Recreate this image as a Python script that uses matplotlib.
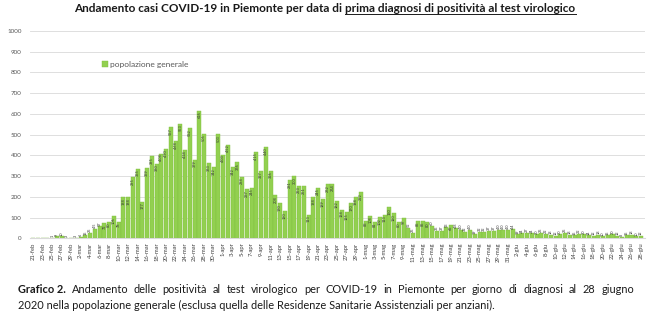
import pandas as pd
import matplotlib
matplotlib.use('Agg')
import matplotlib.pyplot as plt
from matplotlib.lines import Line2D

plt.rcParams['font.family'] = ['Lato', 'DejaVu Sans']

# dates 21 feb -> 28 giu 2020
giorni = pd.date_range('2020-02-21', '2020-06-28')
mesi = {2: 'feb', 3: 'mar', 4: 'apr', 5: 'mag', 6: 'giu'}
etichette = [f"{d.day}-{mesi[d.month]}" for d in giorni]

# casi per giorno di prima diagnosi
casi_feb_mar = [0, 0, 0, 0, 1, 9, 10, 3, 0, 3, 6, 15, 25, 45, 57, 72, 80, 106, 78,
                198, 198, 295, 335, 177, 339, 395, 360, 408, 430, 537, 468, 553,
                424, 532, 379, 616, 505]
casi_apr_mag = [363, 342, 503, 403, 452, 342, 366, 298, 237, 245, 415, 327, 440,
                326, 208, 170, 130, 281, 300, 253, 251, 113, 198, 245, 189, 262,
                264, 182, 138, 125, 170, 198, 222, 83, 108, 81, 102, 113, 150, 120,
                80, 97, 52, 25, 85]
casi_mag = [85, 80, 60, 35, 37, 53, 65, 48, 40, 32, 40, 19, 32, 32, 37, 37, 40,
            40, 40, 44, 19, 24]
casi_giu = [27, 24, 20, 25, 22, 18, 12, 20, 25, 18, 15, 22, 20, 14, 12, 18, 10,
            15, 20, 12, 8, 15, 18, 10, 12]
casi = casi_feb_mar + casi_apr_mag + casi_mag + casi_giu

fig = plt.figure(figsize=(6.5, 3.28), dpi=100)
ax = fig.add_axes([0.046, 0.2735, 0.946, 0.632])

x = range(len(casi))
ax.bar(x, casi, width=0.85, color='#92D050', edgecolor='#7fbf3f', linewidth=0.3,
       label='popolazione generale', zorder=2)

# value labels on the bars
for i, v in enumerate(casi):
    if v == 0:
        continue
    if v > 60:
        ax.text(i, v - 4, str(v), rotation=90, ha='center', va='top',
                fontsize=2.8, color='#3a3a3a', zorder=3)
    else:
        ax.text(i, v + 3, str(v), rotation=90, ha='center', va='bottom',
                fontsize=2.8, color='#3a3a3a', zorder=3)

ax.set_xlim(-0.7, 128.8)
ax.set_ylim(0, 1000)
ax.set_yticks(range(0, 1001, 100))
ax.set_xticks(list(x)[::2])
ax.set_xticklabels(etichette[::2], rotation=90, fontsize=4.2, color='#404040')
ax.tick_params(axis='y', labelsize=4.5, labelcolor='#595959', length=0, pad=6)
ax.tick_params(axis='x', length=0, pad=3)
ax.grid(axis='y', color='#d9d9d9', linewidth=0.6, zorder=0)
for s in ['top', 'right', 'left']:
    ax.spines[s].set_visible(False)
ax.spines['bottom'].set_color('#d9d9d9')

ax.legend(loc='upper left', bbox_to_anchor=(0.105, 0.89), frameon=False,
          fontsize=6, handlelength=0.7, handleheight=0.7, handletextpad=0.3,
          labelcolor='#595959')

r = fig.canvas.get_renderer()

# title with underlined second part
t1 = fig.text(0, 1 - 11.5 / 328, 'Andamento casi COVID-19 in Piemonte per data di ',
              fontsize=8.5, fontweight='bold', color='#1a1a1a', va='baseline')
t2 = fig.text(0, 1 - 11.5 / 328, 'prima diagnosi di positività al test virologico',
              fontsize=8.5, fontweight='bold', color='#1a1a1a', va='baseline')
w1 = t1.get_window_extent(r).width
w2 = t2.get_window_extent(r).width
start = (650 - (w1 + w2)) / 2
t1.set_x(start / 650)
t2.set_x((start + w1) / 650)
yl = 1 - 13.5 / 328
fig.add_artist(Line2D([(start + w1) / 650, (start + w1 + w2) / 650], [yl, yl],
                      color='#1a1a1a', linewidth=0.7, transform=fig.transFigure))

# caption, first line justified between 18 and 634 px
fs = 7.9
riga1 = ['Grafico 2.'] + ('Andamento delle positività al test virologico per COVID-19 '
                          'in Piemonte per giorno di diagnosi al 28 giugno').split()
parole = []
for k, p in enumerate(riga1):
    parole.append(fig.text(0, 1 - 293 / 328, p, fontsize=fs, color='#1a1a1a',
                           va='baseline', fontweight='bold' if k == 0 else 'normal'))
larghezze = [t.get_window_extent(r).width for t in parole]
gap = (634 - 18 - sum(larghezze)) / (len(parole) - 1)
pos = 18
for t, w in zip(parole, larghezze):
    t.set_x(pos / 650)
    pos += w + gap
fig.text(18 / 650, 1 - 309 / 328,
         '2020 nella popolazione generale (esclusa quella delle Residenze Sanitarie Assistenziali per anziani).',
         fontsize=fs, color='#1a1a1a', va='baseline')

fig.savefig('out.png', dpi=100, facecolor='white')
